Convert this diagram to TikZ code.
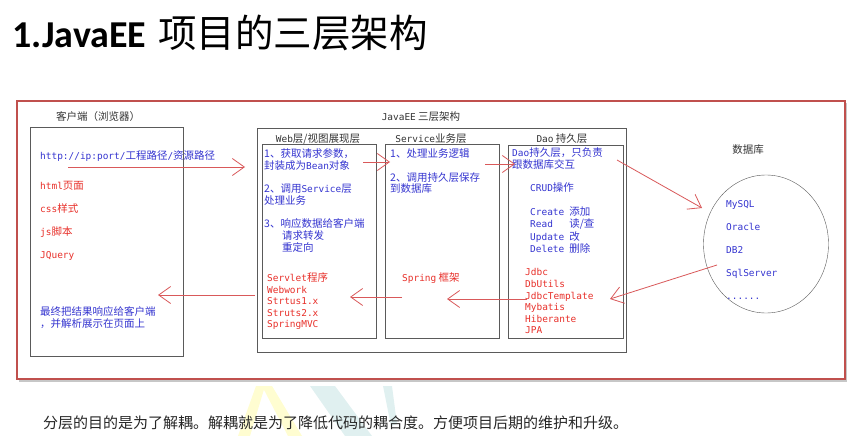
\documentclass[tikz,border=0pt]{standalone}
\usepackage{fontspec}
\setmainfont{Noto Sans CJK SC}
\newfontfamily\titlefont{Carlito}
\newfontfamily\lat{DejaVu Sans Mono}[Scale=0.9]
\newcommand\mon[1]{{\lat #1}}
\usepackage{tikz}
\usetikzlibrary{arrows.meta,positioning,shapes.geometric}
\definecolor{frame}{HTML}{C0504D}
\definecolor{ink}{HTML}{3535D0}
\definecolor{hot}{HTML}{E8302A}
\definecolor{wire}{HTML}{D9595A}
\definecolor{edge}{HTML}{5A5A5A}

\begin{document}
\begin{tikzpicture}[x=1pt,y=-1pt,font=\fontsize{10.5}{11.6}\selectfont,
  box/.style={draw=edge,line width=.8pt},
  head/.style={text=black!80,inner sep=0pt},
  blu/.style={text=ink,align=left,anchor=north west,inner sep=0pt},
  rd/.style={text=hot,align=left,anchor=north west,inner sep=0pt},
  flow/.style={draw=wire,line width=.8pt,-{Straight Barb[length=12pt,width=17pt]}}]
\useasboundingbox(0,0)rectangle(862,436);
% title
\node[anchor=west,inner sep=0pt](title)at(12,33){{\titlefont\bfseries\fontsize{38}{40}\selectfont 1.JavaEE}\hspace{12pt}{\fontsize{38.5}{40}\selectfont 项目的三层架构}};
% faint watermark
\fill[yellow!18](256,386)--(265,386)--(250,436)--(238,436)--cycle;
\fill[yellow!18](262,386)--(272,386)--(302,436)--(288,436)--cycle;
\fill[teal!12](310,386)--(335,386)--(372,436)--(345,436)--cycle;
\fill[teal!12](383,386)--(392,386)--(397,424)--(391,426)--cycle;
% outer frame
\fill[black!22](19,103)rectangle(847,382);
\draw[frame,line width=1.4pt,fill=white](17,101)rectangle(845,379);
% client
\node[head](cliT)at(98,117){客户端（浏览器）};
\draw[box](30,127)rectangle(183,356);
\node[blu](url)at(40,150.5){\mon{http://ip:port/}工程路径\mon{/}资源路径};
\node[rd,font=\fontsize{10.5}{23}\selectfont](front)at(40,181.5){\mon{html}页面\\\mon{css}样式\\\mon{js}脚本\\\mon{JQuery}};
\node[blu](show)at(40,306.5){最终把结果响应给客户端\\，并解析展示在页面上};
% javaee
\node[head](eeT)at(421,117){\mon{JavaEE} 三层架构};
\draw[box](257,128)rectangle(626,352);
\node[head](webT)at(318,139){\mon{Web}层/视图展现层};
\draw[box](262,144)rectangle(376,338);
\node[head](srvT)at(431,139){\mon{Service}业务层};
\draw[box](385,144)rectangle(499,338);
\node[head](daoT)at(562,139){\mon{Dao} 持久层};
\draw[box](508,145)rectangle(623,338);
\node[blu](webJob)at(264,148.5){1、获取请求参数，\\封装成为\mon{Bean}对象\\[12pt]2、调用\mon{Service}层\\处理业务\\[12pt]3、响应数据给客户端\\\hspace*{18pt}请求转发\\\hspace*{18pt}重定向};
\node[rd](webLib)at(267,272.5){\mon{Servlet}程序\\\mon{Webwork}\\\mon{Strtus1.x}\\\mon{Struts2.x}\\\mon{SpringMVC}};
\node[blu](srvJob)at(390,148.5){1、处理业务逻辑\\[12pt]2、调用持久层保存\\到数据库};
\node[rd,anchor=west](spring)at(402,278){\mon{Spring} 框架};
\node[blu](daoJob)at(512,147.5){\mon{Dao}持久层，只负责\\跟数据库交互};
\node[blu](crud)at(530,182.5){\mon{CRUD}操作};
\node[blu](ops)at(530,206.5){\begin{tabular}{@{}l@{\hspace{5pt}}l@{}}\mon{Create}&添加\\\mon{Read}&读/查\\\mon{Update}&改\\\mon{Delete}&删除\end{tabular}};
\node[rd,font=\fontsize{10.5}{11.6}\selectfont\lat](daoLib)at(525,268.5){Jdbc\\DbUtils\\JdbcTemplate\\Mybatis\\Hiberante\\JPA};
% database
\node[head](dbT)at(748,150){数据库};
\node[draw=edge,ellipse,minimum width=125pt,minimum height=138pt](db)at(766,244){};
\node[blu,font=\fontsize{10.5}{23}\selectfont\lat](dbs)at(726,200.5){MySQL\\Oracle\\DB2\\SqlServer\\......};
% arrow ends
\coordinate(a1)at(68,167);\coordinate(b1)at(245,167);
\coordinate(a2)at(363,162);\coordinate(b2)at(390,162);
\coordinate(a3)at(485,164);\coordinate(b3)at(515,164);
\coordinate(a4)at(617,160);\coordinate(b4)at(702,208);
\coordinate(a5)at(717,265);\coordinate(b5)at(610,299);
\coordinate(a6)at(527,299);\coordinate(b6)at(447,299);
\coordinate(a7)at(402,297);\coordinate(b7)at(350,297);
\coordinate(a8)at(255,295);\coordinate(b8)at(158,295);
\foreach \s in {1,...,8}
  \draw[flow](a\s)--(b\s);
% note
\node[anchor=west,inner sep=0pt,text=black!85](note)at(43,423){\fontsize{15}{18}\selectfont 分层的目的是为了解耦。解耦就是为了降低代码的耦合度。方便项目后期的维护和升级。};
\end{tikzpicture}
\end{document}
